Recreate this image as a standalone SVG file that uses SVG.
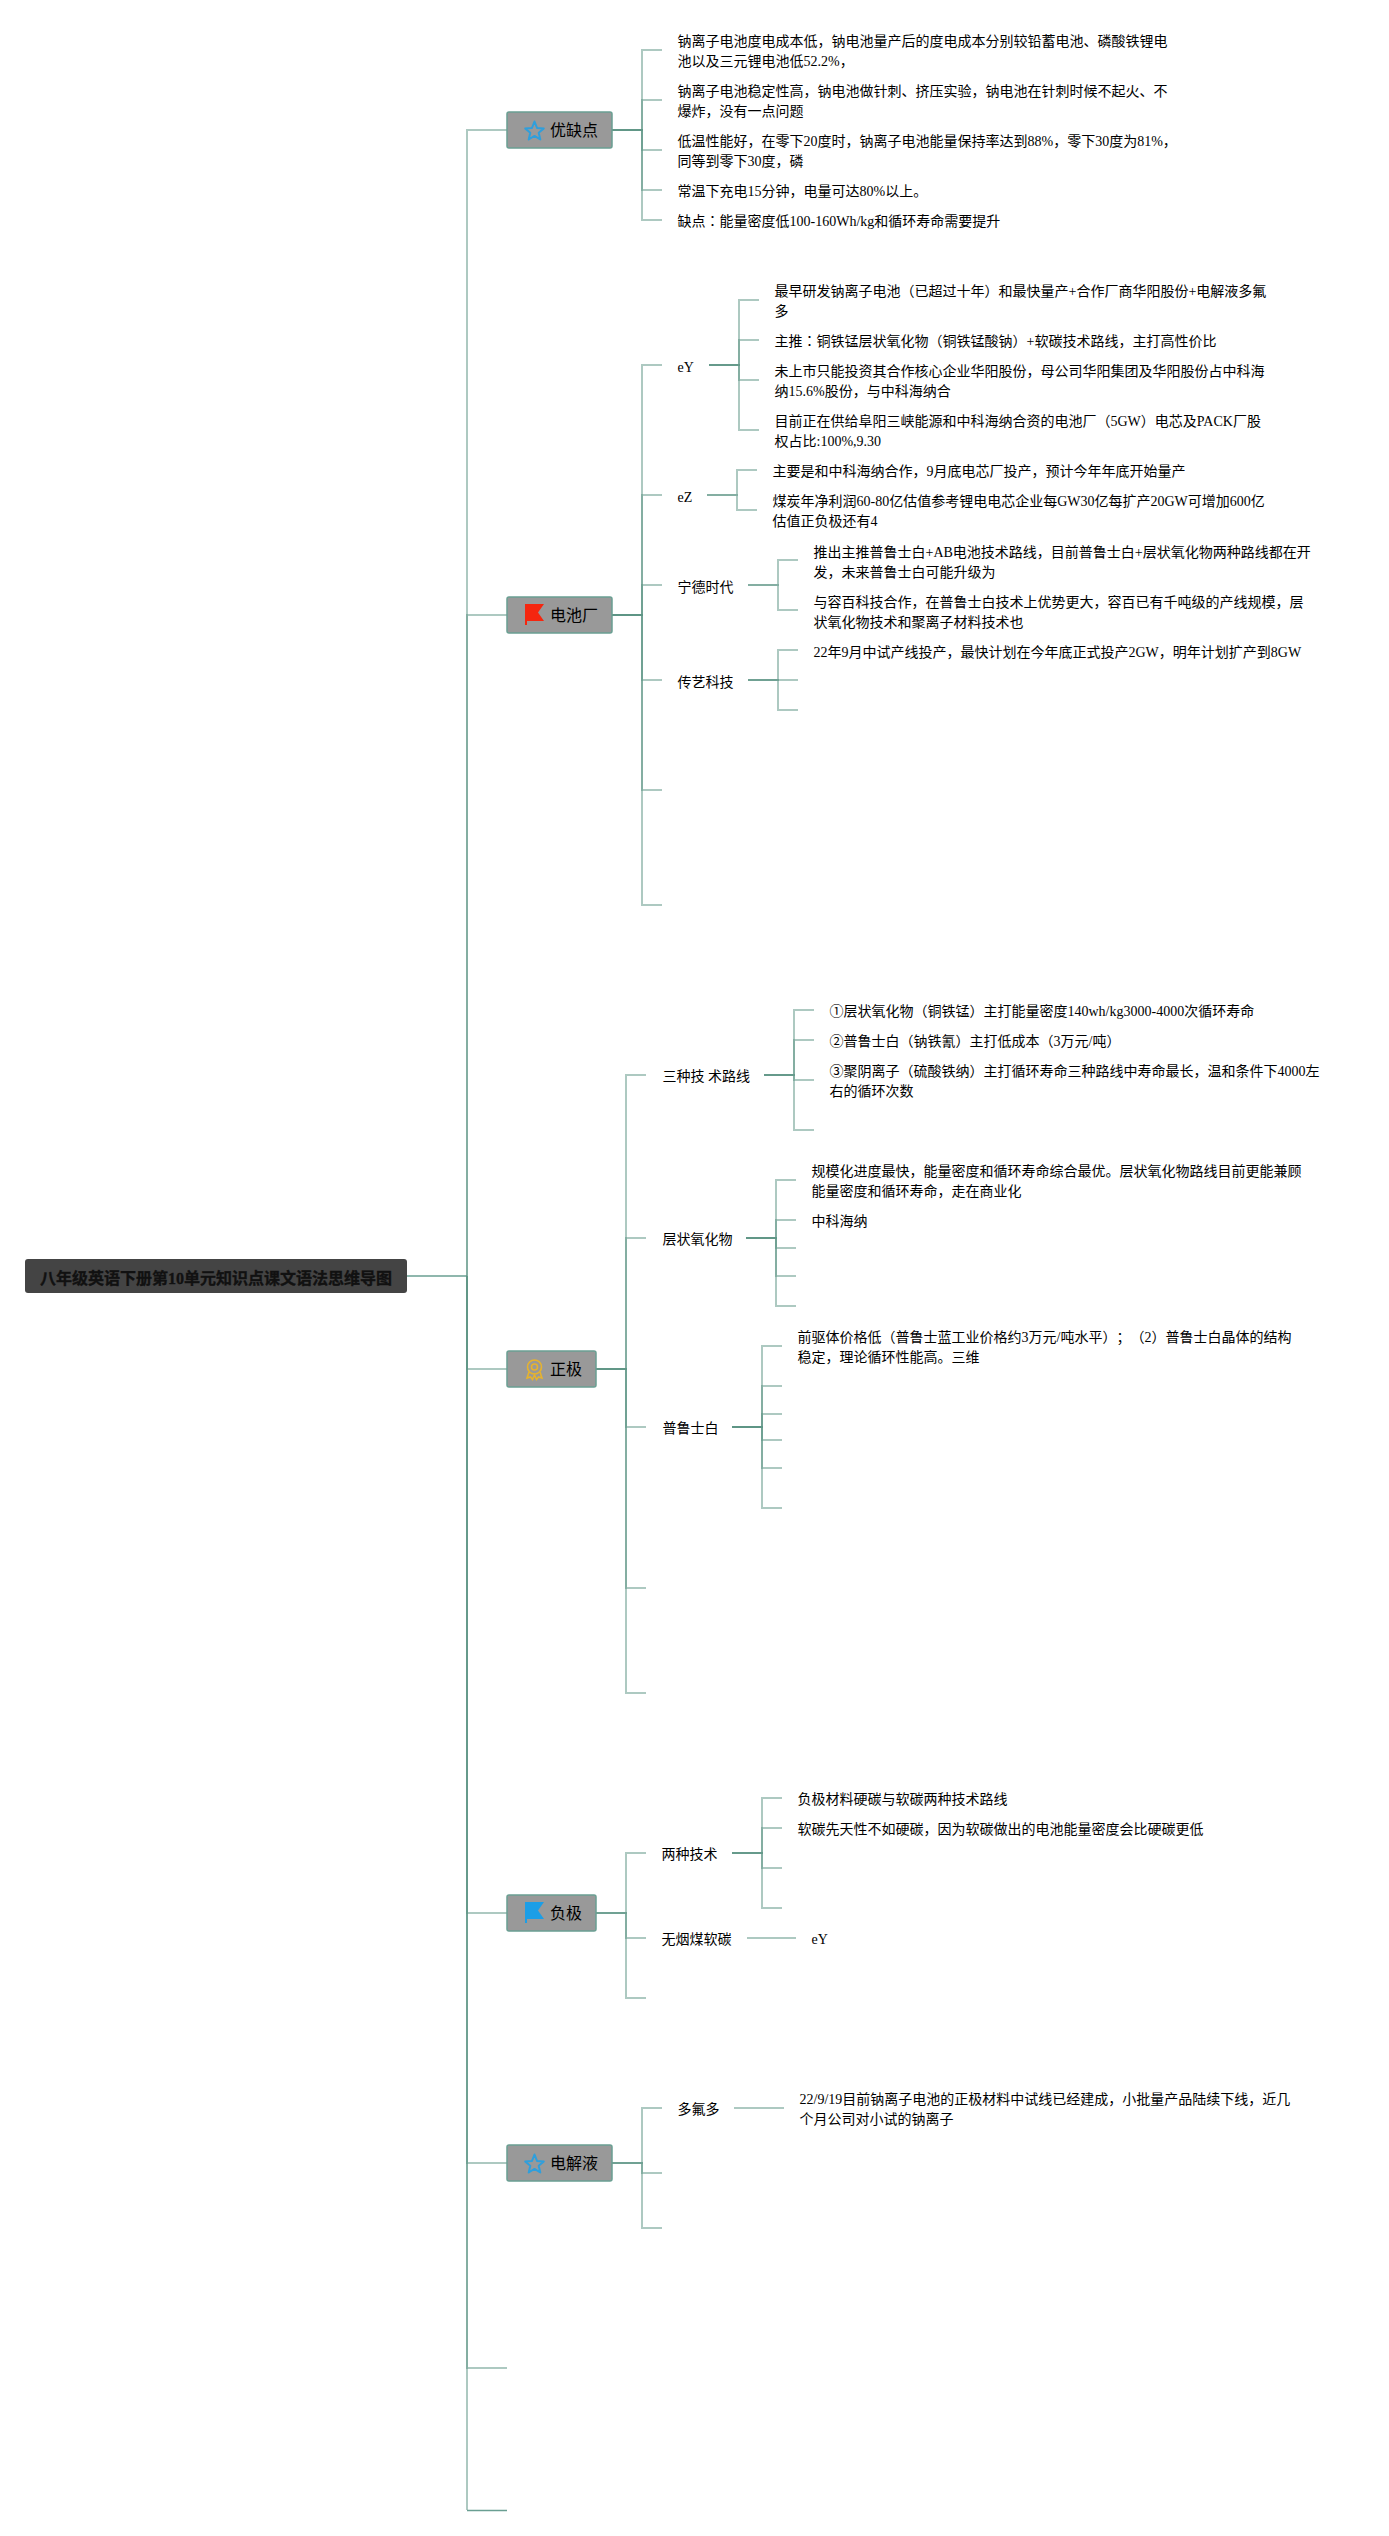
<svg xmlns="http://www.w3.org/2000/svg" width="1389" height="2536" viewBox="0 0 1389 2536">
<defs>
<style>
text{font-family:"Liberation Serif","Noto Sans CJK SC",serif;fill:#000;text-spacing-trim:space-all}
.t{font-size:14px;transform:translate(.5px,0)}
.n{font-size:16px;font-family:"Noto Sans CJK SC","Liberation Sans",sans-serif}
.r{font-size:16px;font-weight:700;fill:#111;stroke:#111;stroke-width:.35}
.tc{font-family:"Noto Sans CJK TC",sans-serif}
.box{fill:#999;stroke:#6a9f92;stroke-width:1.5}
.c path{fill:none;stroke:#5c9484;stroke-opacity:.5;stroke-width:2}
.c path.thin{stroke:#6a9f92;stroke-opacity:1;stroke-width:1.3}
.star{fill:none;stroke:#2f9fdc;stroke-width:2;stroke-linejoin:round}
</style>
<path id="star" d="M9.5 1 12 7.400 18.800 8 13.700 12.300 15.300 19 9.500 15.400 3.700 19 5.300 12.300 .2 8 7 7.400Z"/>
</defs>
<rect width="1389" height="2536" fill="#fff"/>
<g id="connectors" class="c">
<path class="thin" d="M407 1276H467"/>
<path d="M467 1276V130H507"/>
<path d="M467 1276V615H507"/>
<path d="M467 1276V1369H507"/>
<path d="M467 1276V1913H507"/>
<path d="M467 1276V2163H507"/>
<path d="M467 1276V2368H507"/>
<path d="M467 1276V2510"/>
<path class="thin" d="M467 2510.500H507"/>
<path d="M612 130H642V50H662"/>
<path d="M612 130H642V100H662"/>
<path d="M612 130H642V150H662"/>
<path d="M612 130H642V190H662"/>
<path d="M612 130H642V220H662"/>
<path d="M612 615H642V365H662"/>
<path d="M612 615H642V495H662"/>
<path d="M612 615H642V585H662"/>
<path d="M612 615H642V680H662"/>
<path d="M612 615H642V790H662"/>
<path d="M612 615H642V905H662"/>
<path d="M709 365H739V300H759"/>
<path d="M709 365H739V340H759"/>
<path d="M709 365H739V380H759"/>
<path d="M709 365H739V430H759"/>
<path d="M707 495H737V470H757"/>
<path d="M707 495H737V510H757"/>
<path d="M748 585H778V560H798"/>
<path d="M748 585H778V610H798"/>
<path d="M748 680H778V650H798"/>
<path d="M748 680H798"/>
<path d="M748 680H778V710H798"/>
<path d="M596 1369H626V1075H646"/>
<path d="M596 1369H626V1238H646"/>
<path d="M596 1369H626V1427H646"/>
<path d="M596 1369H626V1588H646"/>
<path d="M596 1369H626V1693H646"/>
<path d="M764 1075H794V1010H814"/>
<path d="M764 1075H794V1040H814"/>
<path d="M764 1075H794V1080H814"/>
<path d="M764 1075H794V1130H814"/>
<path d="M746 1238H776V1180H796"/>
<path d="M746 1238H776V1220H796"/>
<path d="M746 1238H776V1248H796"/>
<path d="M746 1238H776V1276H796"/>
<path d="M746 1238H776V1306H796"/>
<path d="M732 1427H762V1346H782"/>
<path d="M732 1427H762V1386H782"/>
<path d="M732 1427H762V1414H782"/>
<path d="M732 1427H762V1440H782"/>
<path d="M732 1427H762V1468H782"/>
<path d="M732 1427H762V1508H782"/>
<path d="M596 1913H626V1853H646"/>
<path d="M596 1913H626V1938H646"/>
<path d="M596 1913H626V1998H646"/>
<path d="M732 1853H762V1798H782"/>
<path d="M732 1853H762V1828H782"/>
<path d="M732 1853H762V1868H782"/>
<path d="M732 1853H762V1908H782"/>
<path d="M747 1938H796"/>
<path d="M612 2163H642V2108H662"/>
<path d="M612 2163H642V2173H662"/>
<path d="M612 2163H642V2228H662"/>
<path d="M734 2108H784"/>
</g>
<g id="root"><rect x="25" y="1259" width="382" height="34" rx="3" fill="#444"/><text class="r" x="40" y="1284">八年级英语下册第10单元知识点课文语法思维导图</text></g>
<g id="n-youque"><rect class="box" x="507" y="112" width="105" height="36" rx="2"/><use href="#star" class="star" x="525" y="120.500"/><text class="n" x="550" y="136">优缺点</text></g>
<g id="n-dianchi"><rect class="box" x="507" y="597" width="105" height="36" rx="2"/><path d="M525 625V604H544L538 612.500 544 621H527V625Z" fill="#f5260f"/><text class="n" x="550" y="621">电池厂</text></g>
<g id="n-zhengji"><rect class="box" x="507" y="1351" width="89" height="36" rx="2"/><g fill="none" stroke="#e6b32e" stroke-width="1.600"><circle cx="534.500" cy="1367" r="7"/><circle cx="534.500" cy="1367" r="3"/><path d="M529 1372 527 1378 530.500 1377 532.500 1379.500 534.500 1375 536.500 1379.500 538.500 1377 542 1378 540 1372"/></g><text class="n" x="550" y="1375">正极</text></g>
<g id="n-fuji"><rect class="box" x="507" y="1895" width="89" height="36" rx="2"/><path d="M525 1923V1902H544L538 1910.500 544 1919H527V1923Z" fill="#1c9ee6"/><text class="n" x="550" y="1919">负极</text></g>
<g id="n-dianjie"><rect class="box" x="507" y="2145" width="105" height="36" rx="2"/><use href="#star" class="star" x="525" y="2153.500"/><text class="n" x="550" y="2169">电解液</text></g>
<g id="t-youque">
<text class="t" x="677" y="46">钠离子电池度电成本低，钠电池量产后的度电成本分别较铅蓄电池、磷酸铁锂电</text>
<text class="t" x="677" y="66">池以及三元锂电池低52.2%，</text>
<text class="t" x="677" y="96">钠离子电池稳定性高，钠电池做针刺、挤压实验，钠电池在针刺时候不起火、不</text>
<text class="t" x="677" y="116">爆炸，没有一点问题</text>
<text class="t" x="677" y="146">低温性能好，在零下20度时，钠离子电池能量保持率达到88%，零下30度为81%，</text>
<text class="t" x="677" y="166">同等到零下30度，磷</text>
<text class="t" x="677" y="196">常温下充电15分钟，电量可达80%以上。</text>
<text class="t" x="677" y="226">缺点<tspan class="tc">：</tspan>能量密度低100-160Wh/kg和循环寿命需要提升</text>
</g>
<g id="t-eY">
<text class="t" x="677" y="372">eY</text>
<text class="t" x="774" y="296">最早研发钠离子电池（已超过十年）和最快量产+合作厂商华阳股份+电解液多氟</text>
<text class="t" x="774" y="316">多</text>
<text class="t" x="774" y="346">主推<tspan class="tc">：</tspan>铜铁锰层状氧化物（铜铁锰酸钠）+软碳技术路线，主打高性价比</text>
<text class="t" x="774" y="376">未上市只能投资其合作核心企业华阳股份，母公司华阳集团及华阳股份占中科海</text>
<text class="t" x="774" y="396">纳15.6%股份，与中科海纳合</text>
<text class="t" x="774" y="426">目前正在供给阜阳三峡能源和中科海纳合资的电池厂（5GW）电芯及PACK厂股</text>
<text class="t" x="774" y="446">权占比:100%,9.30</text>
</g>
<g id="t-eZ">
<text class="t" x="677" y="502">eZ</text>
<text class="t" x="772" y="476">主要是和中科海纳合作，9月底电芯厂投产，预计今年年底开始量产</text>
<text class="t" x="772" y="506">煤炭年净利润60-80亿估值参考锂电电芯企业每GW30亿每扩产20GW可增加600亿</text>
<text class="t" x="772" y="526">估值正负极还有4</text>
</g>
<g id="t-ningde">
<text class="t" x="677" y="592">宁德时代</text>
<text class="t" x="813" y="557">推出主推普鲁士白+AB电池技术路线，目前普鲁士白+层状氧化物两种路线都在开</text>
<text class="t" x="813" y="577">发，未来普鲁士白可能升级为</text>
<text class="t" x="813" y="607">与容百科技合作，在普鲁士白技术上优势更大，容百已有千吨级的产线规模，层</text>
<text class="t" x="813" y="627">状氧化物技术和聚离子材料技术也</text>
</g>
<g id="t-chuanyi">
<text class="t" x="677" y="687">传艺科技</text>
<text class="t" x="813" y="657">22年9月中试产线投产，最快计划在今年底正式投产2GW，明年计划扩产到8GW</text>
</g>
<g id="t-sanzhong">
<text class="t" x="662" y="1081">三种技 术路线</text>
<text class="t" x="829" y="1016">①层状氧化物（铜铁锰）主打能量密度140wh/kg3000-4000次循环寿命</text>
<text class="t" x="829" y="1046">②普鲁士白（钠铁氰）主打低成本（3万元/吨）</text>
<text class="t" x="829" y="1076">③聚阴离子（硫酸铁纳）主打循环寿命三种路线中寿命最长，温和条件下4000左</text>
<text class="t" x="829" y="1096">右的循环次数</text>
</g>
<g id="t-cengzhuang">
<text class="t" x="662" y="1244">层状氧化物</text>
<text class="t" x="811" y="1176">规模化进度最快，能量密度和循环寿命综合最优。层状氧化物路线目前更能兼顾</text>
<text class="t" x="811" y="1196">能量密度和循环寿命，走在商业化</text>
<text class="t" x="811" y="1226">中科海纳</text>
</g>
<g id="t-pulu">
<text class="t" x="662" y="1433">普鲁士白</text>
<text class="t" x="797" y="1342">前驱体价格低（普鲁士蓝工业价格约3万元/吨水平）；（2）普鲁士白晶体的结构</text>
<text class="t" x="797" y="1362">稳定，理论循环性能高。三维</text>
</g>
<g id="t-liangzhong">
<text class="t" x="661" y="1859">两种技术</text>
<text class="t" x="797" y="1804">负极材料硬碳与软碳两种技术路线</text>
<text class="t" x="797" y="1834">软碳先天性不如硬碳，因为软碳做出的电池能量密度会比硬碳更低</text>
</g>
<g id="t-wuyan">
<text class="t" x="661" y="1944">无烟煤软碳</text>
<text class="t" x="811" y="1944">eY</text>
</g>
<g id="t-duofu">
<text class="t" x="677" y="2114">多氟多</text>
<text class="t" x="799" y="2104">22/9/19目前钠离子电池的正极材料中试线已经建成，小批量产品陆续下线，近几</text>
<text class="t" x="799" y="2124">个月公司对小试的钠离子</text>
</g>
</svg>
